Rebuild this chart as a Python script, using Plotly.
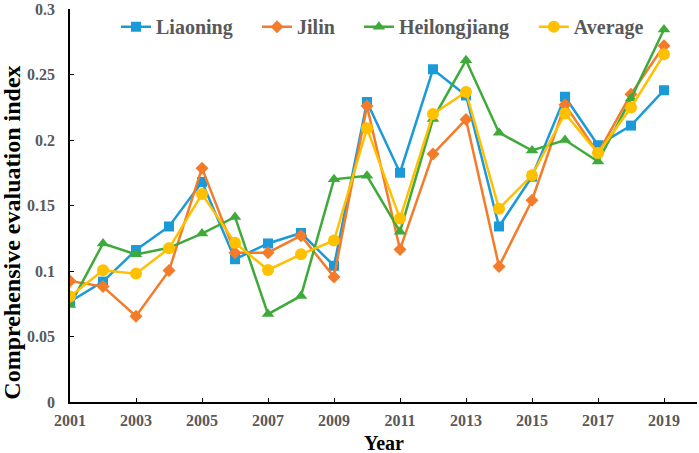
import plotly.graph_objects as go

# 年
years = list(range(2001, 2020))

# 各省の総合評価指数
liaoning = [0.0765, 0.0919, 0.116, 0.134, 0.168, 0.109, 0.121, 0.129, 0.104, 0.229,
            0.175, 0.254, 0.234, 0.134, 0.172, 0.233, 0.196, 0.211, 0.238]
jilin = [0.0924, 0.0881, 0.0655, 0.1003, 0.1785, 0.114, 0.114, 0.127, 0.0955, 0.226,
         0.1165, 0.1894, 0.2157, 0.1035, 0.154, 0.227, 0.19, 0.235, 0.272]
heilongjiang = [0.074, 0.121, 0.1127, 0.1177, 0.1286, 0.1413, 0.0671, 0.081, 0.170, 0.1727,
                0.130, 0.216, 0.2608, 0.2056, 0.192, 0.200, 0.1836, 0.2316, 0.2843]
average = [0.0805, 0.1005, 0.098, 0.1173, 0.1587, 0.1215, 0.1008, 0.1127, 0.1233, 0.2089,
           0.140, 0.2198, 0.2367, 0.1476, 0.173, 0.2203, 0.19, 0.2248, 0.2654]

# y軸の目盛り
y_ticks = [0, 0.05, 0.1, 0.15, 0.2, 0.25, 0.3]
y_labels = ["0", "0.05", "0.1", "0.15", "0.2", "0.25", "0.3"]

names = ["Liaoning", "Jilin", "Heilongjiang", "Average"]
colors = ["#1B9AD9", "#F47B2A", "#3EAA3A", "#FFC000"]
symbols = ["square", "diamond", "triangle-up", "circle"]
sizes = [10, 10, 11, 12]
legend_x = [0.0734, 0.2983, 0.4608, 0.7398]  # 凡例の左端(プロット領域に対する比率)

font_family = "Liberation Serif"
gray = "#595959"
legend_font = dict(size=20, color=gray, family=font_family, weight="bold")

fig = go.Figure()
series = [liaoning, jilin, heilongjiang, average]
for i, (name, vals, c, s, sz) in enumerate(zip(names, series, colors, symbols, sizes)):
    lg = "legend" if i == 0 else "legend%d" % (i + 1)
    fig.add_trace(go.Scatter(x=years, y=vals, mode="lines+markers", name=name,
                             line=dict(color=c, width=2.5),
                             marker=dict(symbol=s, size=sz, color=c), legend=lg))

# 凡例をそれぞれ配置
legends = {}
for i, lx in enumerate(legend_x):
    key = "legend" if i == 0 else "legend%d" % (i + 1)
    legends[key] = dict(x=lx, y=0.955, xanchor="left", yanchor="middle", font=legend_font,
                        bgcolor="rgba(0,0,0,0)")

# レイアウト
fig.update_layout(
    width=699, height=453,
    margin=dict(l=70, r=2, t=9, b=51),
    plot_bgcolor="white", paper_bgcolor="white",
    font=dict(family=font_family, color=gray),
    showlegend=True,
    **legends,
)
# 軸タイトル(注釈で配置)
fig.add_annotation(text="Comprehensive evaluation index", textangle=-90,
                   xref="paper", yref="paper", x=-0.093, y=0.43,
                   xanchor="center", yanchor="middle", showarrow=False,
                   font=dict(size=24, color="black", family=font_family, weight="bold"))
fig.add_annotation(text="Year", xref="paper", yref="paper", x=0.5, y=-0.104,
                   xanchor="center", yanchor="middle", showarrow=False,
                   font=dict(size=20, color="black", family=font_family, weight="bold"))
fig.update_xaxes(range=[2001, 2020], tickvals=years[::2], ticks="inside", ticklen=4,
                 tickcolor="black", showline=True, linecolor="black", linewidth=1.5,
                 showgrid=False, zeroline=False, ticklabelstandoff=3,
                 tickfont=dict(size=16, color=gray, family=font_family, weight="bold"))
fig.update_yaxes(range=[0, 0.3], tickvals=y_ticks, ticktext=y_labels, ticks="inside", ticklen=4,
                 tickcolor="black", showline=True, linecolor="black", linewidth=1.5,
                 showgrid=False, zeroline=False, ticklabelstandoff=10,
                 tickfont=dict(size=16, color=gray, family=font_family, weight="bold"))

# ページの余白を消して図を左上に合わせる
fig.write_html("out.html", config={"displayModeBar": False},
               post_script="document.body.style.margin='0';")
